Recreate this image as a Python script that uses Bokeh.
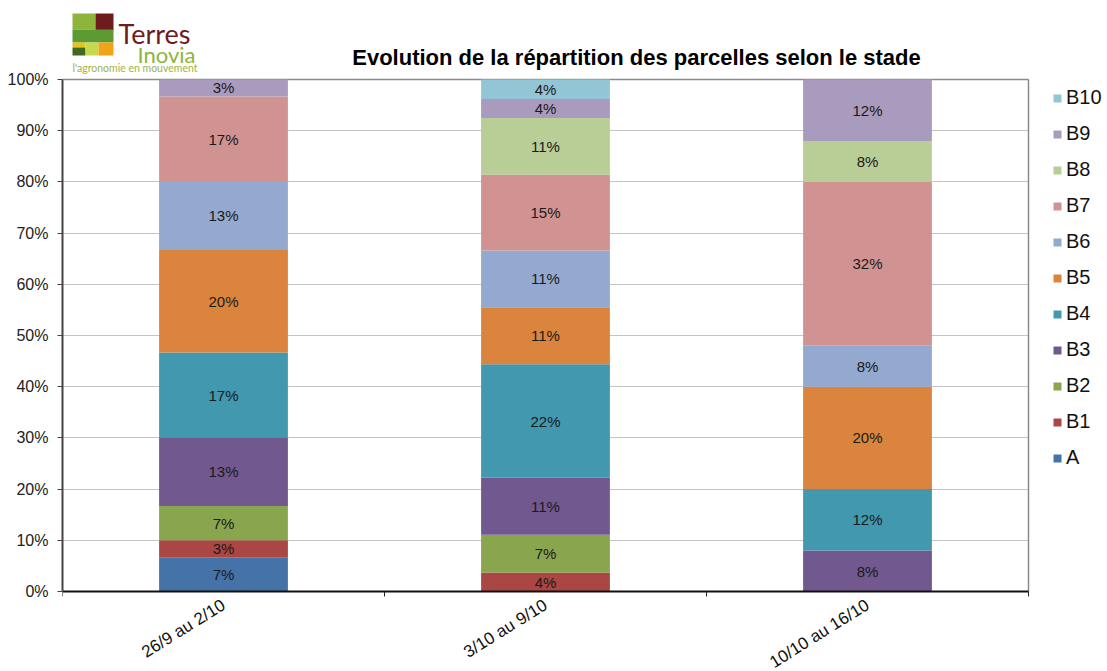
from bokeh.plotting import figure
from bokeh.models import (ColumnDataSource, FixedTicker, PrintfTickFormatter, Legend,
                          LegendItem, Range1d, Grid)
from bokeh.embed import file_html
from bokeh.resources import INLINE
from bokeh.core.properties import value

# ---------------- data ----------------
periods = ["26/9 au 2/10", "3/10 au 9/10", "10/10 au 16/10"]
stages = ["A", "B1", "B2", "B3", "B4", "B5", "B6", "B7", "B8", "B9", "B10"]
A   = [6.7, 0.0, 0.0]
B1  = [3.3, 3.7, 0.0]
B2  = [6.7, 7.4, 0.0]
B3  = [13.3, 11.1, 8.0]
B4  = [16.7, 22.2, 12.0]
B5  = [20.0, 11.1, 20.0]
B6  = [13.3, 11.1, 8.0]
B7  = [16.7, 14.8, 32.0]
B8  = [0.0, 11.1, 8.0]
B9  = [3.3, 3.7, 12.0]
B10 = [0.0, 3.8, 0.0]
y_ticks = list(range(0, 101, 10))
title_text = "Evolution de la répartition des parcelles selon le stade"

colors = ["#4572A7", "#AA4643", "#89A54E", "#71588F", "#4198AF", "#DB843D",
          "#93A9CF", "#D19392", "#B9CD96", "#A99BBD", "#92C5D6"]

series = [A, B1, B2, B3, B4, B5, B6, B7, B8, B9, B10]
n = len(periods)
xs = [i + 0.5 for i in range(n)]
data = {"x": xs}
for s, v in zip(stages, series):
    data[s] = v
src = ColumnDataSource(data)

FONT = "Liberation Sans"
W, H = 1107, 671
FRAME_L, FRAME_R, FRAME_B = 62, 1028, 591      # plot area in page pixels
PX_PER_PCT = 5.12                               # 0 % at 591 px, 100 % at 79 px
Y_TOP = FRAME_B / PX_PER_PCT                    # frame extends up into the header
Y_BOT = -(H - FRAME_B) / PX_PER_PCT             # ... and down into the label area
X_END = n * (W - FRAME_L) / (FRAME_R - FRAME_L) # ... and right into the legend area

p = figure(width=W, height=H, output_backend="svg", toolbar_location=None,
           x_range=Range1d(0, X_END), y_range=Range1d(Y_BOT, Y_TOP),
           min_border_left=FRAME_L, min_border_right=0, min_border_top=0,
           min_border_bottom=0)
p.background_fill_color = "white"
p.border_fill_color = "white"
p.outline_line_color = None

rs = p.vbar_stack(stages, x="x", width=0.4, color=colors, line_color=None, source=src)

# segment labels
lx, ly, lt = [], [], []
for i, x in enumerate(xs):
    bottom = 0.0
    for v in series:
        val = v[i]
        if val > 0:
            lx.append(x)
            ly.append(bottom + val / 2)
            lt.append("%d%%" % round(val))
        bottom += val
p.text(x=lx, y=ly, text=lt, text_align="center", text_baseline="middle",
       text_font=value(FONT), text_font_size="15px", text_color="#1a1a1a")

# x axis, fixed at 0 %
p.xaxis.fixed_location = 0
p.xaxis.bounds = (0, n)
p.xaxis.ticker = FixedTicker(ticks=xs, minor_ticks=list(range(n + 1)))
p.xaxis.major_label_overrides = {x: lab for x, lab in zip(xs, periods)}
p.xaxis.major_label_orientation = 0.56
p.xaxis.major_tick_line_color = None
p.xaxis.major_tick_out = 0
p.xaxis.major_tick_in = 0
p.xaxis.minor_tick_out = 5
p.xaxis.minor_tick_in = 0
p.xaxis.minor_tick_line_color = "#222222"
p.xaxis.axis_line_color = "#111111"
p.xaxis.axis_line_width = 2
p.xaxis.major_label_standoff = 7
p.xaxis.major_label_text_font = FONT
p.xaxis.major_label_text_font_size = "17px"
p.xaxis.major_label_text_color = "#111111"

# y axis (line limited to 0..100 %)
p.yaxis.bounds = (0, 100)
p.yaxis.ticker = FixedTicker(ticks=y_ticks)
p.yaxis.formatter = PrintfTickFormatter(format="%d%%")
p.yaxis.major_tick_out = 5
p.yaxis.major_tick_in = 0
p.yaxis.minor_tick_line_color = None
p.yaxis.axis_line_color = "#444444"
p.yaxis.axis_line_width = 2
p.yaxis.major_tick_line_color = "#444444"
p.yaxis.major_label_standoff = 9
p.yaxis.major_label_text_font = FONT
p.yaxis.major_label_text_font_size = "16px"
p.yaxis.major_label_text_color = "#222222"

p.xgrid.visible = False
p.ygrid.ticker = FixedTicker(ticks=y_ticks[1:-1])
p.ygrid.cross_bounds = (0, n)
p.ygrid.grid_line_color = "#c4c4c4"

# plot-area border: top line at 100 % and right edge
p.add_layout(Grid(dimension=1, ticker=FixedTicker(ticks=[100]), cross_bounds=(0, n),
                  grid_line_color="#8a8a8a", grid_line_width=1.5))
p.add_layout(Grid(dimension=0, ticker=FixedTicker(ticks=[n]), cross_bounds=(0, 100),
                  grid_line_color="#8a8a8a", grid_line_width=1.5))

# legend
items = [LegendItem(label=s, renderers=[r]) for s, r in zip(stages, rs)][::-1]
legend = Legend(items=items, location=(990, 122 - Y_BOT * PX_PER_PCT), padding=0, margin=0,
                border_line_color=None, background_fill_alpha=0,
                glyph_width=10, glyph_height=10, label_standoff=4,
                label_height=20, spacing=13,
                label_text_font=FONT, label_text_font_size="20px",
                label_text_color="#111111")
p.add_layout(legend)

# header: logo (decoration) and title, placed with the chart's own scales
def px_x(v):
    return (v - FRAME_L) * n / (FRAME_R - FRAME_L)

def px_y(v):
    return (FRAME_B - v) / PX_PER_PCT

logo_l = [72, 95, 72, 72, 72, 85, 98]
logo_r = [95, 113, 113, 85, 85, 98, 113]
logo_t = [13, 13, 29, 42, 47, 42, 42]
logo_b = [29, 30, 42, 47, 55, 55, 55]
logo_c = ["#8DB53C", "#6E1B1E", "#5C9A34", "#E6C21E", "#3F6A22", "#C6D94E", "#F0A418"]
p.quad(left=[px_x(v) for v in logo_l], right=[px_x(v) for v in logo_r],
       top=[px_y(v) for v in logo_t], bottom=[px_y(v) for v in logo_b],
       color=logo_c, line_color=None)
p.text(x=[px_x(118)], y=[px_y(33)], text=["Terres"], text_font=value("Lato"),
       text_font_size="27px", text_color="#6E1B1E", text_baseline="alphabetic")
p.text(x=[px_x(137)], y=[px_y(54)], text=["Inovia"], text_font=value("Lato"),
       text_font_size="22px", text_color="#8DB53C", text_baseline="alphabetic")
p.text(x=[px_x(72)], y=[px_y(67)], text=["l'agronomie en mouvement"], text_font=value("Lato"),
       text_font_size="10.5px", text_color="#9FB34A", text_baseline="alphabetic")
p.text(x=[px_x(636)], y=[px_y(57)], text=[title_text], text_font=value(FONT),
       text_font_size="22px", text_font_style="bold", text_color="#000000",
       text_align="center", text_baseline="alphabetic")

open("out.html", "w").write(file_html(p, INLINE))
